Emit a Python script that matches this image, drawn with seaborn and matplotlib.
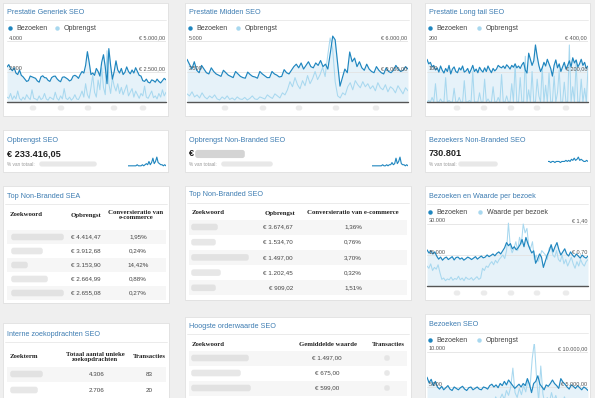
import numpy as np
import pandas as pd
import matplotlib
matplotlib.use("Agg")
import matplotlib.pyplot as plt
import seaborn as sns
from matplotlib.patches import Rectangle, FancyBboxPatch

# ---------------- data ----------------
gen_bezoeken = [2300, 2450, 2200, 2050, 2250, 1900, 1800, 2100,
                1750, 1650, 1500, 1350, 1400, 1700, 1650, 1600, 1550, 1380, 1300, 1650, 1720, 1600,
                1580, 1420, 1350, 1600, 1680, 1700, 1520, 1400, 1330, 1620, 1650, 1580, 1500, 1380,
                1450, 1700, 1750, 1680, 1550,
                1800, 2000, 1900, 2400, 3300, 2600, 1800, 1900, 1750, 2200, 2000, 1700,
                2600, 3100, 2300, 1200, 3500, 2400, 1500, 2000, 2700,
                2100, 1900, 2200, 1800, 1950, 2300, 2000, 1850, 2100, 1900, 2250, 2000, 1750, 1700,
                1400, 1350, 1500, 1300, 1250, 1450, 1400, 1300, 1500, 1350, 1250, 1400, 1550, 1450]
gen_opbrengst = [400, 300, 700, 200, 500, 250, 900, 300, 150, 400, 200, 600, 350, 200, 1000, 300,
                 250, 150, 500, 200, 300, 700, 250, 150, 400, 300, 200, 800, 300, 150, 500, 250,
                 1100, 300, 200, 400, 150, 300, 600, 250, 200, 500, 900, 400, 1500, 600, 300, 1200,
                 2200, 800, 400, 1800, 1000, 2800, 1200, 600, 4200, 1500, 700, 2000, 1300, 900,
                 1500, 700, 1200, 600, 1000, 1400, 500, 800, 1100, 400, 900, 600, 300, 700, 500,
                 1300, 400, 300, 600, 900, 350, 500, 250, 700, 400, 1000, 500, 800]

mid_bezoeken = [3500, 3100, 2700, 3300, 2600, 2400,
                3000, 2700, 2400, 2300, 2800, 2500, 2300, 2200, 2100, 2600, 2400, 2200, 2100, 2000,
                2500, 2300, 2100, 2000, 1950, 2450, 2250, 2100, 2050, 1950, 2500, 2300, 2150, 2000,
                2000, 2500, 2300, 2200, 2050, 2100, 2650, 2400, 2300,
                2600, 2900, 3100, 2800, 3200, 2700, 3000, 3300, 2900, 2800, 3200, 3000, 3400, 2900,
                3100, 2700,
                4000, 5400, 5100, 3200, 1300, 2000, 2700, 2400,
                4100, 3300, 3600, 2900, 3300, 2800, 2600, 3100, 2700, 2500, 2400, 2900, 2600, 2400,
                2300, 2800, 2500, 2400, 2600, 3000, 2700, 2500, 2600, 2900, 2700]
mid_opbrengst = [800, 600, 1000, 500, 700, 400, 900, 500, 300, 600, 400, 700, 300, 200, 500, 300,
                 600, 250, 400, 200, 500, 300, 250, 450, 200, 350, 600, 300, 250, 500, 400, 300,
                 700, 500, 350, 800, 600, 400, 900, 700,
                 1200, 2000, 1500, 2400, 1700, 1300, 2100, 1600, 2600, 1800, 2300, 3000, 2200,
                 2700, 3400, 2500,
                 4500, 6300, 5200, 2000, 600, 400, 900, 700,
                 1500, 1900, 1200, 2100, 1700, 1400, 2000, 1500, 1800, 1300, 1600, 1100, 1900,
                 1400, 1200, 1700, 1000, 1500, 1300, 900, 1600, 1200, 800, 1400, 1100]

lt_bezoeken = [140, 125, 130, 115, 120, 105, 112, 98, 118, 104, 95, 110, 100, 120, 92, 108, 115,
               100, 96, 112, 105, 118, 98, 102, 110, 94, 106, 120, 100, 108, 96, 114, 104, 98, 112,
               100, 118, 106, 96, 110, 102, 108, 120, 115, 112, 118, 110, 122, 116, 108, 120, 114,
               125, 112, 118, 110, 122, 130, 105, 95, 160, 140, 120, 135, 187, 150, 120, 100, 112,
               130, 118, 140, 125, 110, 85, 120, 138, 112, 125, 100, 115, 130, 108, 120, 135, 115,
               145, 128, 138, 115, 125, 140, 120, 130, 110, 118]
lt_opbrengst = [0, 10, 0, 30, 0, 120, 0, 0, 20, 0, 0, 160, 0, 10, 0, 0, 90, 0, 0, 30, 0, 0, 140,
                0, 0, 10, 0, 200, 0, 0, 0, 60, 0, 0, 150, 0, 20, 0, 0, 100, 0, 0, 30, 0, 180, 0,
                0, 40, 0, 0, 120, 0, 250, 0, 0, 160, 0, 0, 300, 0, 80, 0, 200, 0, 0, 150, 40, 0,
                230, 0, 110, 0, 190, 0, 0, 170, 0, 60, 210, 0, 0, 130, 0, 0, 374, 0, 100, 0, 260,
                0, 0, 150, 0, 90, 0, 220]

wpb_bezoeken = [17500, 16000, 17000, 15500, 16500, 14500, 13000, 14000, 12500, 13500, 14000, 12800,
                13500, 14200, 12600, 13800, 14000, 13000, 13600, 12500, 13200, 14000, 13500, 12800,
                13500, 14200, 13000, 13800, 14500, 13600, 14000, 15000, 14200, 14800, 15500, 14600,
                15800, 16500, 15500, 17000, 18500, 21000, 19500, 20500, 18000, 19000, 17500, 18500,
                20000, 22500, 19000, 23500, 20500, 18000, 16000, 17000, 11000, 13000, 15500, 14000,
                9000, 12000, 15000, 17000, 20000, 16500, 19000, 21000, 17500, 15000, 16500, 18000,
                15500, 14500, 16500, 15000, 14000, 15500, 14500, 13500, 15000, 14000, 13500, 14500]
wpb_waarde = [0.45, 0.40, 0.50, 0.35, 0.42, 0.38, 0.48, 0.30, 0.15, 0.18, 0.12, 0.16, 0.14, 0.20,
              0.13, 0.17, 0.15, 0.22, 0.14, 0.18, 0.12, 0.20, 0.16, 0.15, 0.19, 0.13, 0.17, 0.21,
              0.15, 0.18, 0.40, 0.35, 0.45, 0.42, 0.50, 0.55, 0.48, 0.58, 0.52, 0.60, 0.65, 0.70,
              0.62, 0.80, 1.42, 0.90, 0.75, 0.85, 1.00, 0.80, 1.10, 0.95, 1.40, 1.20, 1.30, 0.90,
              0.85, 1.00, 0.60, 0.70, 0.55, 0.65, 0.80, 0.75, 0.70, 0.60, 0.85, 0.90, 0.70, 0.65,
              0.80, 0.60, 0.55, 0.70, 0.50, 0.60, 0.45, 0.55, 0.65, 0.50, 0.40, 0.55, 0.45, 0.60,
              0.50, 0.45, 0.55, 0.60]

seo_bezoeken = [6400, 5600, 6100, 5200, 5800, 5000, 4700, 5100, 4600, 4900, 5200, 4700, 4500, 5000,
                4800, 4600, 4900, 5100, 4700, 4500, 4900, 5000, 4600, 4800, 5000, 4700, 4600, 5000,
                4900, 4700, 5200, 5400, 5000, 5300, 4900, 5500, 5200, 5800, 5300, 6000, 5600, 5200,
                4800, 5100, 5400, 5000, 5500, 5200, 6200, 5400, 4200, 5500, 5800, 6600, 5400, 5000,
                4600, 5300, 5100, 5500, 6000, 5500, 5200, 4800, 6200, 5700, 5400, 5000, 4700, 5300,
                5100, 4800, 5200, 4900, 4600, 5000, 4800, 4500]
seo_opbrengst = [2000, 1500, 2500, 1800, 1200, 2200, 1600, 1000, 2000, 1400, 1800, 1200, 2300, 1500,
                 1000, 1900, 1300, 2100, 1600, 1100, 2000, 1400, 1700, 2200, 1500, 1900, 2400, 1800,
                 2800, 2200, 3000, 2500, 3600, 2800, 3300, 4000, 3200, 4500, 3800, 5000, 7700, 4200,
                 3500, 4800, 3900, 5200, 4300, 6000, 5000, 9000, 11400, 6500, 3000, 8000, 4000, 2500,
                 3500, 2800, 4200, 3000, 3800, 2600, 3300, 2400, 3600, 2800, 2200, 3000, 2500, 2000,
                 2700, 2300, 1800, 2500, 2100, 1600]

spark_opbrengst = [2, 2, 2, 2, 2, 2, 2, 3, 2, 2, 2, 3, 2, 3, 4, 3, 6, 3, 5, 9, 4, 6, 10, 5, 4, 3, 3, 2, 3, 2]
spark_nb_opbrengst = [2, 2, 2, 2, 2, 2, 2, 2, 3, 2, 2, 3, 2, 3, 3, 5, 3, 4, 9, 4, 6, 10, 4, 3, 3, 2, 3, 2]
spark_nb_bezoekers = [6, 6, 5, 6, 6, 5, 6, 6, 6, 5, 6, 6, 6, 7, 6, 7, 6, 8, 7, 9, 7, 8, 10, 7, 8, 7, 6, 6, 7, 6]

kpi_titels = ["Opbrengst SEO", "Opbrengst Non-Branded SEO", "Bezoekers Non-Branded SEO"]
kpi_waarden = ["€ 233.416,05", "€", "730.801"]

sea_opbrengst = ["€ 4.414,47", "€ 3.912,68", "€ 3.153,90", "€ 2.664,99", "€ 2.655,08"]
sea_conversie = ["1,95%", "0,24%", "14,42%", "0,88%", "0,27%"]
seo_tab_opbrengst = ["€ 3.674,67", "€ 1.534,70", "€ 1.497,00", "€ 1.202,45", "€ 909,02"]
seo_tab_conversie = ["1,36%", "0,76%", "3,70%", "0,32%", "1,51%"]
intern_uniek = ["4.306", "2.706"]
intern_transacties = ["83", "20"]
order_waarde = ["€ 1.497,00", "€ 675,00", "€ 599,00"]

# ---------------- style ----------------
sns.set_theme(style="white")
plt.rcParams["font.family"] = ["Liberation Sans", "DejaVu Sans"]

W, H = 595, 398
DARK = "#1f86bf"
LIGHT = "#a8d8ef"
FILL = "#e6f2f9"
TITLE = "#3e7db2"
TXT = "#444444"
BG = "#efefef"

fig = plt.figure(figsize=(W / 100, H / 100), dpi=100)
fig.patch.set_facecolor(BG)

bg = fig.add_axes([0, 0, 1, 1])
bg.set_xlim(0, W); bg.set_ylim(H, 0); bg.axis("off")


def px_axes(x0, y0, x1, y1):
    a = fig.add_axes([x0 / W, 1 - y1 / H, (x1 - x0) / W, (y1 - y0) / H])
    a.patch.set_alpha(0)
    a.set_axis_off()
    return a


def panel(x0, y0, x1, y1):
    bg.add_patch(Rectangle((x0 + 0.6, y0 + 0.8), x1 - x0, y1 - y0, fc="#e2e2e2", ec="none"))
    bg.add_patch(Rectangle((x0, y0), x1 - x0, y1 - y0, fc="white", ec="#dcdcdc", lw=0.5))


panels = [(3, 3, 168, 116), (185, 3, 411, 116), (425, 3, 590, 116),
          (3, 130, 168, 172), (185, 130, 411, 172), (425, 130, 590, 172),
          (3, 186, 169, 303), (185, 186, 411, 300), (425, 186, 590, 300),
          (3, 323, 169, 420), (185, 317, 411, 420), (425, 314, 590, 420)]
for p in panels:
    panel(*p)


def ts_chart(x0, x1, y_grid, y_base, s1, s2, max1, max2):
    y_top = y_grid - 8
    frac = (y_base - y_top) / (y_base - y_grid)
    d1 = pd.DataFrame({"dag": np.arange(len(s1)), "waarde": s1})
    d2 = pd.DataFrame({"dag": np.arange(len(s2)), "waarde": s2})
    a_fill = px_axes(x0, y_top, x1, y_base)
    a_fill.fill_between(d1["dag"], d1["waarde"], 0, color=FILL, lw=0)
    a_fill.axhline(max1, color="#e3e3e3", lw=0.6)
    a_fill.axhline(max1 / 2, color="#e3e3e3", lw=0.6)
    a_fill.set_xlim(0, len(s1) - 1); a_fill.set_ylim(0, max1 * frac)
    a2 = px_axes(x0, y_top, x1, y_base)
    sns.lineplot(data=d2, x="dag", y="waarde", ax=a2, color=LIGHT, lw=0.75)
    a2.set_xlim(0, len(s2) - 1); a2.set_ylim(0, max2 * frac)
    a2.set_axis_off()
    a1 = px_axes(x0, y_top, x1, y_base)
    sns.lineplot(data=d1, x="dag", y="waarde", ax=a1, color=DARK, lw=0.85)
    a1.set_xlim(0, len(s1) - 1); a1.set_ylim(0, max1 * frac)
    a1.set_axis_off()
    a1.axhline(0, color="#555555", lw=1.0, clip_on=False)


ts_chart(7, 166, 41, 102, gen_bezoeken, gen_opbrengst, 4000, 5000)
ts_chart(187, 408, 41, 102, mid_bezoeken, mid_opbrengst, 5000, 6000)
ts_chart(427, 588, 41, 102, lt_bezoeken, lt_opbrengst, 200, 400)
ts_chart(427, 588, 224, 286, wpb_bezoeken, wpb_waarde, 30000, 1.40)
ts_chart(427, 588, 352, 422, seo_bezoeken, seo_opbrengst, 10000, 10000)

# sparklines
for (x0, x1), vals in zip([(128, 166), (372, 408), (548, 588)],
                          [spark_opbrengst, spark_nb_opbrengst, spark_nb_bezoekers]):
    a = px_axes(x0, 156, x1, 168)
    ds = pd.DataFrame({"i": np.arange(len(vals)), "v": vals})
    sns.lineplot(data=ds, x="i", y="v", ax=a, color=DARK, lw=0.8)
    a.set_xlim(0, len(vals) - 1); a.set_ylim(0, 11)
    a.set_axis_off()

# ---------------- foreground text ----------------
fg = fig.add_axes([0, 0, 1, 1])
fg.patch.set_alpha(0)
fg.set_xlim(0, W); fg.set_ylim(H, 0); fg.axis("off")


def blur(x0, x1, y, h=5.0, c="#d0d0d0", alpha=0.5):
    fg.add_patch(FancyBboxPatch((x0, y - h / 2), x1 - x0, h,
                                boxstyle="round,pad=0.8,rounding_size=2.5",
                                fc=c, ec="none", alpha=alpha))


def title(x, y, s, x0, x1, line=True):
    fg.text(x, y, s, fontsize=5.2, color=TITLE, va="center", ha="left")
    if line:
        fg.plot([x0 + 2, x1 - 2], [y + 8, y + 8], color="#e8e8e8", lw=0.6)


def legend(x, y, lab1, lab2, x2):
    fg.plot([x], [y], "o", ms=3.2, color=DARK, mec="none")
    fg.text(x + 6, y, lab1, fontsize=5.0, color=TXT, va="center")
    fg.plot([x2], [y], "o", ms=3.2, color=LIGHT, mec="none")
    fg.text(x2 + 7, y, lab2, fontsize=5.0, color=TXT, va="center")


def axlabels(x0, x1, y_grid, l_top, l_mid, r_top, r_mid, y_base):
    ym = (y_grid + y_base) / 2
    for yy, ll, rr in [(y_grid, l_top, r_top), (ym, l_mid, r_mid)]:
        fg.text(x0 + 2, yy - 3, ll, fontsize=4.0, color="#555555", va="center", ha="left")
        fg.text(x1 - 1, yy - 3, rr, fontsize=4.0, color="#555555", va="center", ha="right")


def ticks(xs, y):
    for x in xs:
        blur(x - 2.5, x + 2.5, y, h=3.5, c="#dedede", alpha=0.6)


# row 1
title(7, 12, "Prestatie Generiek SEO", 3, 168)
title(189, 12, "Prestatie Midden SEO", 185, 411)
title(429, 12, "Prestatie Long tail SEO", 425, 590)
legend(10, 28, "Bezoeken", "Opbrengst", 57)
legend(190, 28, "Bezoeken", "Opbrengst", 238)
legend(430, 28, "Bezoeken", "Opbrengst", 479)
axlabels(7, 166, 41, "4.000", "2.000", "€ 5.000,00", "€ 2.500,00", 102)
axlabels(187, 408, 41, "5.000", "2.500", "€ 6.000,00", "€ 3.000,00", 102)
axlabels(427, 588, 41, "200", "100", "€ 400,00", "€ 200,00", 102)
ticks([33, 61, 88, 114, 143], 108)
ticks([225, 263, 299, 336, 376], 108)
ticks([457, 484, 511, 537, 566], 108)

# row 2 KPIs
for (x, bx0, bx1), t, v in zip([(7, 40, 96), (189, 222, 272), (429, 459, 497)], kpi_titels, kpi_waarden):
    title(x, 140, t, 0, 0, line=False)
    fg.text(x, 154, v, fontsize=6.6, fontweight="bold", color="#222222", va="center")
    fg.text(x, 164, "% van totaal:", fontsize=3.4, color="#999999", va="center")
    blur(bx0, bx1, 164, h=3.5, c="#dadada", alpha=0.6)
blur(196, 244, 154, h=6.5, c="#b8b8b8", alpha=0.6)

# row 3 table 1
title(7, 196, "Top Non-Branded SEA", 3, 169)
hdr = dict(fontsize=4.9, fontweight="bold", color="#222222", va="center",
           family=["Liberation Serif", "DejaVu Serif"])
body = dict(fontsize=4.5, color=TXT, va="center")
fg.text(10, 215, "Zoekwoord", ha="left", **hdr)
fg.text(71, 215, "Opbrengst", ha="left", **hdr)
fg.text(136, 215, "Conversieratio van\ne-commerce", ha="center", linespacing=1.1, **hdr)
kw1 = [63, 42, 27, 47, 63]
for i, (o, c) in enumerate(zip(sea_opbrengst, sea_conversie)):
    y = 237 + i * 14
    if i % 2 == 0:
        bg.add_patch(Rectangle((7, y - 7), 159, 14, fc="#f6f6f6", ec="none"))
    blur(12, kw1[i], y)
    fg.text(71, y, o, ha="left", **body)
    fg.text(138, y, c, ha="center", **body)

# row 3 table 2
title(189, 195, "Top Non-Branded SEO", 185, 411)
fg.text(192, 213, "Zoekwoord", ha="left", **hdr)
fg.text(295, 213, "Opbrengst", ha="right", **hdr)
fg.text(353, 213, "Conversieratio van e-commerce", ha="center", **hdr)
kw2 = [217, 215, 248, 220, 215]
for i, (o, c) in enumerate(zip(seo_tab_opbrengst, seo_tab_conversie)):
    y = 227 + i * 15.2
    if i % 2 == 0:
        bg.add_patch(Rectangle((189, y - 7.5), 218, 15, fc="#f6f6f6", ec="none"))
    blur(192, kw2[i], y)
    fg.text(293, y, o, ha="right", **body)
    fg.text(353, y, c, ha="center", **body)

# row 3 right chart
title(429, 196, "Bezoeken en Waarde per bezoek", 425, 590)
legend(430, 212, "Bezoeken", "Waarde per bezoek", 480)
axlabels(427, 588, 224, "30.000", "15.000", "€ 1,40", "€ 0,70", 286)
ticks([457, 484, 511, 537, 566], 293)

# row 4 table 3
title(7, 334, "Interne zoekopdrachten SEO", 3, 169)
fg.text(10, 357, "Zoekterm", ha="left", **hdr)
fg.text(95, 357, "Totaal aantal unieke\nzoekopdrachten", ha="center", linespacing=1.1, **hdr)
fg.text(149, 357, "Transacties", ha="center", **hdr)
kw3 = [42, 37]
for i, (u, t) in enumerate(zip(intern_uniek, intern_transacties)):
    y = 374 + i * 16
    if i % 2 == 0:
        bg.add_patch(Rectangle((7, y - 7.5), 159, 15, fc="#f6f6f6", ec="none"))
    blur(11, kw3[i], y)
    fg.text(97, y, u, ha="center", **body)
    fg.text(149, y, t, ha="center", **body)

# row 4 table 4
title(189, 326, "Hoogste orderwaarde SEO", 185, 411)
fg.text(192, 344, "Zoekwoord", ha="left", **hdr)
fg.text(328, 344, "Gemiddelde waarde", ha="center", **hdr)
fg.text(388, 344, "Transacties", ha="center", **hdr)
kw4 = [248, 240, 250]
for i, w in enumerate(order_waarde):
    y = 358 + i * 15
    if i % 2 == 0:
        bg.add_patch(Rectangle((189, y - 7.5), 218, 15, fc="#f6f6f6", ec="none"))
    blur(192, kw4[i], y)
    fg.text(327, y, w, ha="center", **body)
    blur(385, 389, y, h=4, c="#dadada", alpha=0.6)

# row 4 right chart
title(429, 325, "Bezoeken SEO", 425, 590)
legend(430, 340, "Bezoeken", "Opbrengst", 479)
axlabels(427, 588, 352, "10.000", "5.000", "€ 10.000,00", "€ 5.000,00", 422)

fig.savefig("out.png", dpi=100, facecolor=fig.get_facecolor())
